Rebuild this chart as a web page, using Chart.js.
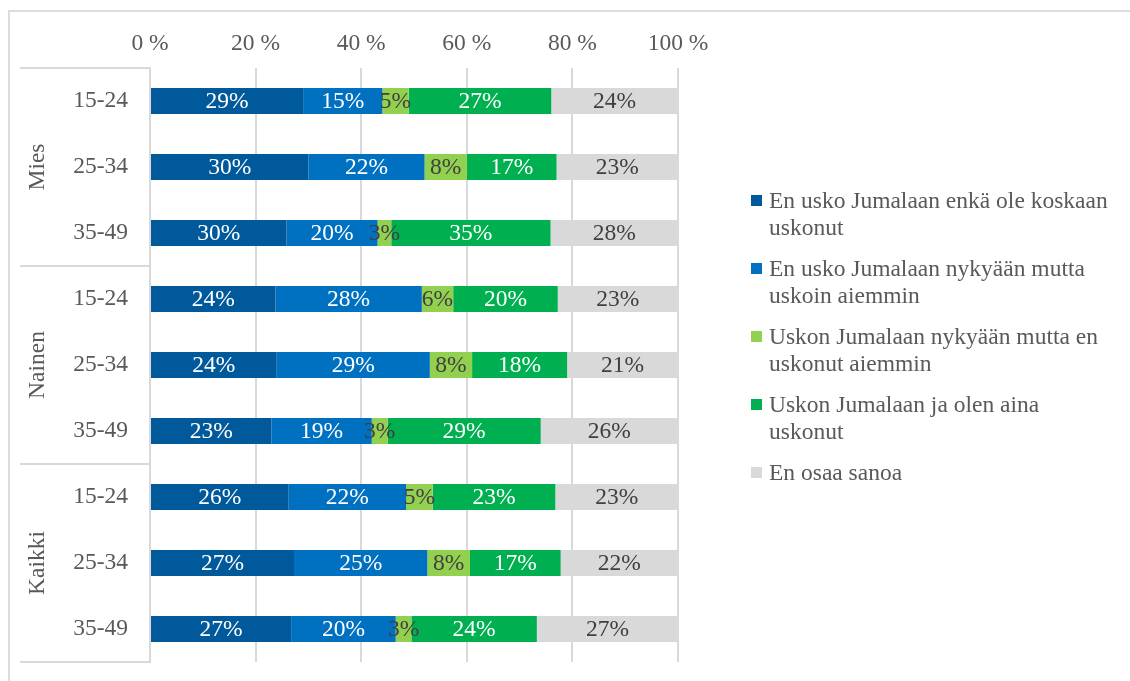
<!DOCTYPE html>
<html>
<head>
<meta charset="utf-8">
<script src="https://cdn.jsdelivr.net/npm/chart.js@4.4.0/dist/chart.umd.min.js"></script>
<style>
  body { margin: 0; background: #fff; overflow: hidden; }
  #frame { position: absolute; left: 8px; top: 10px; width: 1200px; height: 800px; border: 2px solid #dcdcdc; }
  #chart { position: absolute; left: 0; top: 0; }
  #legend { position: absolute; left: 751px; top: 187px; font-family: "Liberation Serif", serif; font-size: 23.5px; color: #595959; }
  .item { display: flex; align-items: flex-start; margin-bottom: 14px; }
  .box { width: 11px; height: 11px; margin-top: 8px; margin-right: 7px; flex: none; }
  .txt { line-height: 27px; white-space: pre-line; }
</style>
</head>
<body>
<div id="frame"></div>
<canvas id="chart" width="1130" height="681"></canvas>
<div id="legend"></div>
<script>
// categories
const groups = ['Mies', 'Nainen', 'Kaikki'];
const ages = ['15-24', '25-34', '35-49', '15-24', '25-34', '35-49', '15-24', '25-34', '35-49'];

// series (labelled values, bars are shown as share of row total)
const seriesNames = [
  'En usko Jumalaan enkä ole koskaan\nuskonut',
  'En usko Jumalaan nykyään mutta\nuskoin aiemmin',
  'Uskon Jumalaan nykyään mutta en\nuskonut aiemmin',
  'Uskon Jumalaan ja olen aina\nuskonut',
  'En osaa sanoa'
];
const neverBelieved = [29, 30, 30, 24, 24, 23, 26, 27, 27];
const formerlyBelieved = [15, 22, 20, 28, 29, 19, 22, 25, 20];
const nowBelieves = [5, 8, 3, 6, 8, 3, 5, 8, 3];
const alwaysBelieved = [27, 17, 35, 20, 18, 29, 23, 17, 24];
const dontKnow = [24, 23, 28, 23, 21, 26, 23, 22, 27];

const xTicks = [0, 20, 40, 60, 80, 100];

const colors = ['#00599b', '#0070c0', '#92d050', '#00b050', '#d9d9d9'];
const labelColors = ['#ffffff', '#ffffff', '#404040', '#ffffff', '#404040'];
const FONT = '"Liberation Serif", "Times New Roman", serif';

const raw = [neverBelieved, formerlyBelieved, nowBelieves, alwaysBelieved, dontKnow];
const totals = ages.map((_, i) => raw.reduce((s, arr) => s + arr[i], 0));

const datasets = raw.map((arr, k) => ({
  label: seriesNames[k].replace('\n', ' '),
  data: arr.map((v, i) => v / totals[i] * 100),
  raw: arr,
  backgroundColor: colors[k],
  barPercentage: 0.394,
  categoryPercentage: 1
}));

// value labels inside segments
const valueLabels = {
  id: 'valueLabels',
  afterDatasetsDraw(chart) {
    const ctx = chart.ctx;
    ctx.save();
    ctx.font = '23.5px ' + FONT;
    ctx.textAlign = 'center';
    ctx.textBaseline = 'middle';
    chart.data.datasets.forEach((ds, k) => {
      chart.getDatasetMeta(k).data.forEach((bar, i) => {
        ctx.fillStyle = labelColors[k];
        ctx.fillText(ds.raw[i] + '%', (bar.x + bar.base) / 2, bar.y + 1);
      });
    });
    ctx.restore();
  }
};

// outer group labels and separators
const groupAxis = {
  id: 'groupAxis',
  afterDraw(chart) {
    const ctx = chart.ctx;
    const y = chart.scales.y;
    const left = chart.chartArea.left;
    const step = y.getPixelForValue(1) - y.getPixelForValue(0);
    ctx.save();
    ctx.strokeStyle = '#d9d9d9';
    ctx.lineWidth = 2;
    for (let g = 0; g <= groups.length; g++) {
      const py = y.getPixelForValue(g * 3) - step / 2;
      ctx.beginPath();
      ctx.moveTo(20, py);
      ctx.lineTo(left, py);
      ctx.stroke();
    }
    ctx.fillStyle = '#595959';
    ctx.font = '23.5px ' + FONT;
    ctx.textAlign = 'center';
    ctx.textBaseline = 'middle';
    groups.forEach((name, g) => {
      const cy = y.getPixelForValue(g * 3 + 1);
      ctx.save();
      ctx.translate(38, cy);
      ctx.rotate(-Math.PI / 2);
      ctx.fillText(name, 0, 0);
      ctx.restore();
    });
    ctx.restore();
  }
};

new Chart(document.getElementById('chart'), {
  type: 'bar',
  data: { labels: ages, datasets },
  options: {
    indexAxis: 'y',
    responsive: false,
    animation: false,
    layout: { padding: { left: 8, right: 452, top: 10, bottom: 19 } },
    plugins: { legend: { display: false }, tooltip: { enabled: false } },
    scales: {
      x: {
        position: 'top',
        stacked: true,
        min: 0,
        max: 100,
        afterBuildTicks: s => { s.ticks = xTicks.map(v => ({ value: v })); },
        afterFit: s => { s.height = 58; s.paddingLeft = 0; s.paddingRight = 0; },
        ticks: { callback: v => v + ' %', color: '#595959', font: { family: FONT, size: 23.5 }, padding: 10 },
        grid: { color: '#d9d9d9', lineWidth: 2, drawTicks: false },
        border: { display: false }
      },
      y: {
        stacked: true,
        afterFit: s => { s.width = 142; s.paddingTop = 0; s.paddingBottom = 0; },
        ticks: { color: '#595959', font: { family: FONT, size: 23.5 }, padding: 22 },
        grid: { display: false, drawTicks: false },
        border: { color: '#d9d9d9', width: 2 }
      }
    }
  },
  plugins: [valueLabels, groupAxis]
});

// legend
const legend = document.getElementById('legend');
seriesNames.forEach((name, k) => {
  const item = document.createElement('div');
  item.className = 'item';
  const box = document.createElement('div');
  box.className = 'box';
  box.style.background = colors[k];
  const txt = document.createElement('div');
  txt.className = 'txt';
  txt.textContent = name;
  item.appendChild(box);
  item.appendChild(txt);
  legend.appendChild(item);
});
</script>
</body>
</html>
